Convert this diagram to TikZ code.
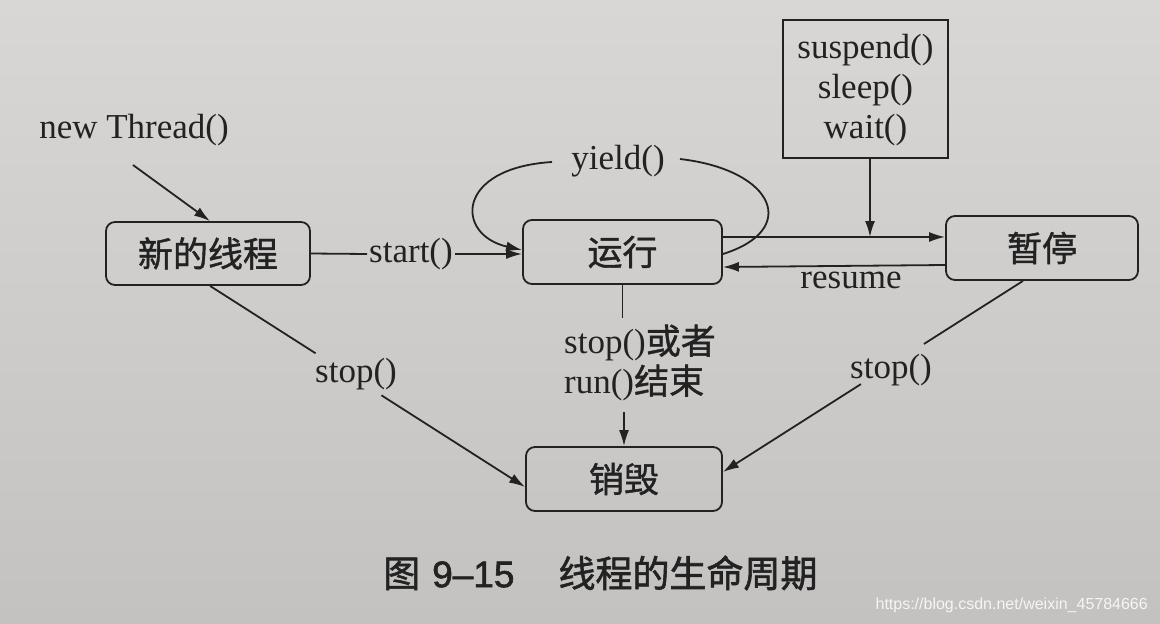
\documentclass[tikz,border=0pt]{standalone}
\usepackage{fontspec}
\setmainfont{Liberation Serif}
\newfontfamily\cjk[FakeBold=1.2]{Noto Sans CJK SC}
\newfontfamily\cjkcap[FakeBold=1.6]{Noto Sans CJK SC}
\newfontfamily\capsans[FakeBold=1.6]{Liberation Sans}
\newfontfamily\wmfont{Liberation Sans}
\usetikzlibrary{arrows.meta,calc}
\definecolor{bgtop}{HTML}{D9D7D5}
\definecolor{bgbot}{HTML}{C4C2C0}
\definecolor{ink}{HTML}{222222}
\tikzset{
  lbl/.style={font=\fontsize{35}{40}\selectfont, text=ink, inner sep=0pt},
  state/.style={draw=ink, line width=1.8pt, rounded corners=9pt, inner sep=0pt,
    font=\cjk\fontsize{35}{40}\selectfont, text=ink},
  cbox/.style={draw=ink, line width=1.8pt, inner sep=0pt},
  conn/.style={draw=ink, line width=1.8pt},
  arr/.style={conn, -{Latex[length=16pt,width=10pt]}}
}
\begin{document}
\begin{tikzpicture}[x=1pt,y=-1pt]
\useasboundingbox (0,0) rectangle (1160,624);
\fill[top color=bgtop, bottom color=bgbot] (0,0) rectangle (1160,624);

% states
\node[state, minimum width=204pt, minimum height=63pt] (N) at (208,253.5) {新的线程};
\node[state, minimum width=199pt, minimum height=64pt] (R) at (622.5,252) {运行};
\node[state, minimum width=192pt, minimum height=64pt] (P) at (1042,248) {暂停};
\node[state, minimum width=196pt, minimum height=64pt] (D) at (624,479) {销毁};

% suspend box
\node[cbox, minimum width=165pt, minimum height=138pt] (S) at (865.5,89) {};
\node[lbl, align=center] (St) at ([yshift=-1pt]S.center) {suspend()\\sleep()\\wait()};

% labels
\node[lbl] (nt) at (134,130) {new Thread()};
\coordinate (ntend) at (133,165);
\node[lbl] (st) at (411,254) {start()};
\node[lbl] (yl) at (618,161) {yield()};
\node[lbl] (rs) at (851,280) {resume};
\node[lbl, align=left] (sr) at (640,363) {stop(){\cjk 或者}\\run(){\cjk 结束}};
\node[lbl] (s1) at (356,374) {stop()};
\node[lbl] (s2) at (891,370) {stop()};

% new thread arrow
\draw[arr] (ntend) -- ([xshift=2pt]N.north);

% start
\draw[conn] (N.east) -- ([xshift=-2pt]st.west);
\draw[arr] ([xshift=2pt]st.east) -- ([yshift=-2pt]R.west);

% yield loop
\coordinate (yr) at (680,159);
\coordinate (ylf) at (552,162);
\draw[conn] (yr) .. controls (775,170) and (800,230) .. ([yshift=-2pt]R.east);
\draw[arr] (ylf) .. controls (455,168) and (455,235) .. ([yshift=2pt]R.west);

% run <-> pause
\draw[arr] ([yshift=15pt]R.east) -- ([yshift=11pt]P.west);
\draw[arr] ([yshift=-17pt]P.west) -- ([yshift=-15pt]R.east);
\coordinate (hit) at (870,237);
\draw[arr] (S.south -| hit) -- (hit);

% run -> destroy
\draw[conn] (R.south) -- (R.south |- 0,318);
\draw[arr] (D.north |- 0,412) -- (D.north);

% new -> destroy
\coordinate (a0) at ([xshift=2pt]N.south);
\coordinate (a3) at ([yshift=-8pt]D.west);
\draw[conn] (a0) -- ($(a0)!0.335!(a3)$);
\draw[arr] ($(a0)!0.544!(a3)$) -- (a3);

% pause -> destroy
\coordinate (b0) at ([xshift=-19pt]P.south);
\coordinate (b3) at ([yshift=7pt]D.east);
\draw[conn] (b0) -- ($(b0)!0.33!(b3)$);
\draw[arr] ($(b0)!0.54!(b3)$) -- (b3);

% caption
\node[inner sep=0pt, text=ink, anchor=west] (cap) at (383,573)
  {\cjkcap\fontsize{37}{40}\selectfont 图\hspace{12pt}{\capsans 9–15}\hspace{44pt}线程的生命周期};
\node[inner sep=0pt, text=white!92!gray, font=\wmfont\fontsize{16}{18}\selectfont, anchor=east] (wm) at (1148,605) {https://blog.csdn.net/weixin\_45784666};
\end{tikzpicture}
\end{document}
